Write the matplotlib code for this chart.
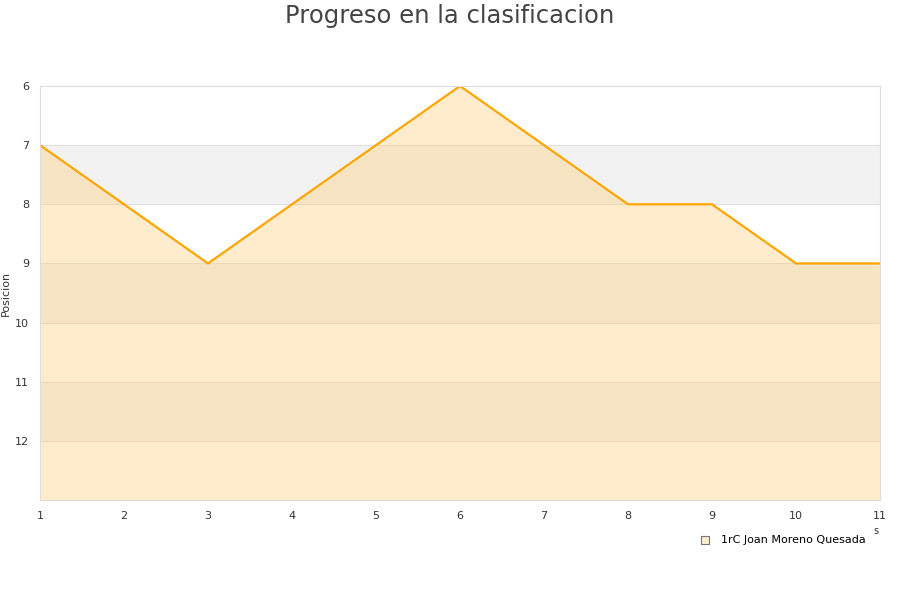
import matplotlib.pyplot as plt

jornadas = [1, 2, 3, 4, 5, 6, 7, 8, 9, 10, 11]
posicion = [7, 8, 9, 8, 7, 6, 7, 8, 8, 9, 9]
equipo = '1rC Joan Moreno Quesada'

fig = plt.figure(figsize=(9, 6), dpi=100)
ax = fig.add_axes([40/900, 100/600, 840/900, 414/600])

# alternating bands
for lo in [7, 9, 11]:
    ax.axhspan(lo, lo + 1, color='#f2f2f2', lw=0, zorder=0)
for y in range(7, 13):
    ax.axhline(y, color='#e0e0e0', lw=0.8, zorder=0.5)

ax.fill_between(jornadas, posicion, 13, color=(1, 200/255, 100/255), alpha=0.33, lw=0, zorder=1)
ax.plot(jornadas, posicion, color='#ffa500', lw=1.6, zorder=2)

ax.set_xlim(1, 11)
ax.set_ylim(13, 6)
ax.set_xticks(jornadas)
ax.set_yticks([6, 7, 8, 9, 10, 11, 12])
ax.tick_params(length=0, labelsize=8, colors='#333333', pad=8)
for s in ax.spines.values():
    s.set_color('#dddddd')
ax.set_ylabel('Posicion', fontsize=8, color='#333333', labelpad=3)

fig.text(0.5, 0.993, 'Progreso en la clasificacion', ha='center', va='top', fontsize=17.5, color='#444444')
fig.text(876/900, 1 - 531/600, 's', ha='center', va='center', fontsize=7, color='#333333')

ax.scatter([], [], marker='s', s=30, facecolor='#ffedcc', edgecolor='#777777', lw=0.8, label=equipo)
leg = ax.legend(loc='upper right', bbox_to_anchor=((866-40)/840, -0.085), frameon=False, fontsize=8,
                handletextpad=0.5, borderaxespad=0, borderpad=0)

fig.savefig('out.png')
